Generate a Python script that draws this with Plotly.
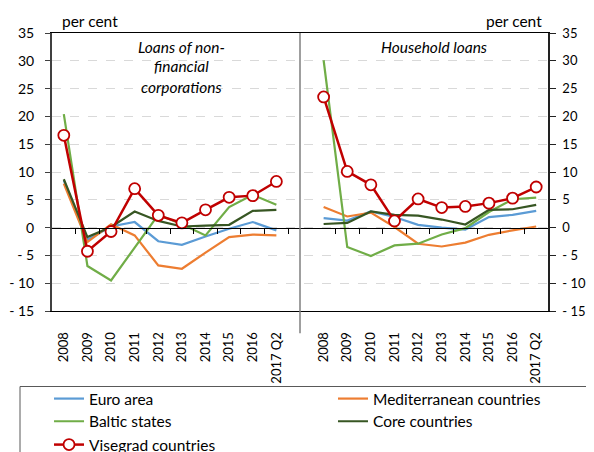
import plotly.graph_objects as go

years = ["2008", "2009", "2010", "2011", "2012", "2013", "2014", "2015", "2016", "2017 Q2"]

# Loans of non-financial corporations (left panel), per cent
nfc_euro = [8.5, -2.2, 0.2, 1.0, -2.45, -3.1, -1.6, -0.2, 1.0, -0.5]
nfc_med = [7.9, -2.6, 0.6, -1.4, -6.8, -7.4, -4.5, -1.7, -1.25, -1.4]
nfc_baltic = [20.4, -6.9, -9.5, -3.6, 2.3, 0.6, -1.4, 3.7, 5.9, 4.1]
nfc_core = [8.7, -1.7, 0.1, 2.9, 1.2, 0.2, 0.35, 0.5, 3.0, 3.2]
nfc_visegrad = [16.6, -4.25, -0.7, 7.0, 2.2, 0.85, 3.2, 5.45, 5.75, 8.3]

# Household loans (right panel), per cent
hh_euro = [1.7, 1.25, 2.9, 1.9, 0.5, 0.0, -0.35, 1.9, 2.3, 3.0]
hh_med = [3.7, 2.0, 2.7, 0.1, -2.9, -3.4, -2.7, -1.3, -0.5, 0.2]
hh_baltic = [30.1, -3.5, -5.1, -3.2, -2.9, -1.25, -0.1, 2.8, 5.1, 5.4]
hh_core = [0.65, 0.85, 2.9, 2.3, 2.15, 1.45, 0.55, 3.2, 3.3, 4.1]
hh_visegrad = [23.5, 10.1, 7.7, 1.2, 5.15, 3.6, 3.8, 4.4, 5.3, 7.3]

series_names = ["Euro area", "Mediterranean countries", "Baltic states", "Core countries", "Visegrad countries"]
y_ticks = [35, 30, 25, 20, 15, 10, 5, 0, -5, -10, -15]
y_tick_labels = ["35", "30", "25", "20", "15", "10", "5", "0", "- 5", "- 10", "- 15"]

FONT = "Lato"
WORD = 15.5
DIGIT = 13
n = len(years)
x_left = list(range(n))
x_gap = n
x_right = list(range(n + 1, 2 * n + 1))
x_all = x_left + [x_gap] + x_right
tick_pos = x_left + x_right
tick_text = years + years
boundaries = [i + 0.5 for i in range(0, n)] + [i + 0.5 for i in range(n + 1, 2 * n)]

colors = ["#5B9BD5", "#ED7D31", "#70AD47", "#375623", "#C00000"]
left_data = [nfc_euro, nfc_med, nfc_baltic, nfc_core, nfc_visegrad]
right_data = [hh_euro, hh_med, hh_baltic, hh_core, hh_visegrad]
legend_ids = ["legend", "legend2", "legend3", "legend4", "legend5"]

fig = go.Figure()
for name, col, l, r, lg in zip(series_names, colors, left_data, right_data, legend_ids):
    y = list(l) + [None] + list(r)
    if name == "Visegrad countries":
        fig.add_trace(go.Scatter(
            x=x_all, y=y, name=name, mode="lines+markers", legend=lg,
            line=dict(color=col, width=2.5),
            marker=dict(symbol="circle", size=11, color="white", line=dict(color=col, width=1.8)),
            connectgaps=False,
        ))
    else:
        fig.add_trace(go.Scatter(
            x=x_all, y=y, name=name, mode="lines", legend=lg,
            line=dict(color=col, width=2.2), connectgaps=False,
        ))

# helper empty traces so the extra axes exist
fig.add_trace(go.Scatter(x=[None], y=[None], xaxis="x2", yaxis="y", showlegend=False, hoverinfo="skip"))
fig.add_trace(go.Scatter(x=[None], y=[None], xaxis="x", yaxis="y2", showlegend=False, hoverinfo="skip"))

xr = [-0.5, 2 * n + 0.5]
yr = [-15, 35]

# legend positions (paper coords): two columns, three rows
col_x = [-0.006, 0.5665]
row_y = [-0.2554, -0.3370, -0.4209]
leg_pos = [(col_x[0], row_y[0]), (col_x[1], row_y[0]), (col_x[0], row_y[1]), (col_x[1], row_y[1]), (col_x[0], row_y[2])]

legends = {}
for lg, (lx, ly) in zip(legend_ids, leg_pos):
    legends[lg] = dict(
        orientation="h", x=lx, xanchor="left", y=ly, yanchor="top",
        font=dict(family=FONT, size=WORD, color="#000"), bgcolor="rgba(0,0,0,0)", borderwidth=0,
    )

fig.update_layout(
    width=586, height=444,
    margin=dict(l=44, r=46, t=25, b=141, autoexpand=False),
    paper_bgcolor="white", plot_bgcolor="white",
    font=dict(family=FONT, size=WORD, color="#000"),
    xaxis=dict(
        range=xr, tickmode="array", tickvals=tick_pos, ticktext=tick_text,
        tickangle=-90, showgrid=False, zeroline=False,
        showline=True, linecolor="#000", linewidth=1, mirror=True,
        ticks="outside", ticklen=15, tickcolor="rgba(0,0,0,0)",
        tickfont=dict(size=DIGIT),
    ),
    xaxis2=dict(
        range=xr, overlaying="x", anchor="free", position=(0 - yr[0]) / (yr[1] - yr[0]),
        side="bottom", tickmode="array", tickvals=boundaries, showticklabels=False,
        ticks="outside", ticklen=5, tickcolor="#000", tickwidth=1,
        showline=True, linecolor="#000", linewidth=1.2, showgrid=False, zeroline=False,
    ),
    yaxis=dict(
        range=yr, tickmode="array", tickvals=y_ticks, ticktext=y_tick_labels,
        showgrid=True, gridcolor="#D9D9D9", griddash="dash", gridwidth=1,
        zeroline=False, showline=True, linecolor="#404040", linewidth=2,
        ticks="outside", ticklen=5, tickcolor="#404040", ticklabelstandoff=8,
        tickfont=dict(size=DIGIT + 1),
    ),
    yaxis2=dict(
        range=yr, overlaying="y", side="right", tickmode="array", tickvals=y_ticks,
        ticktext=y_tick_labels, showgrid=False, zeroline=False,
        showline=True, linecolor="#222", linewidth=1.5,
        ticks="outside", ticklen=6, tickcolor="#222", ticklabelstandoff=4,
        tickfont=dict(size=DIGIT),
    ),
    showlegend=True,
    **legends,
)

# divider between the two panels
fig.add_shape(type="line", xref="x", yref="paper", x0=x_gap, x1=x_gap, y0=-0.08, y1=1,
              line=dict(color="#7F7F7F", width=1.5))
# legend frame
fig.add_shape(type="rect", xref="paper", yref="paper",
              x0=(20 - 52) / 496, x1=(588 - 52) / 496, y0=(311 - 386.5) / 278, y1=(311 - 470) / 278,
              line=dict(color="#595959", width=1), fillcolor="rgba(0,0,0,0)")

ann = [
    dict(text="per cent", x=0.016, y=1.043, xanchor="left", yanchor="middle"),
    dict(text="per cent", x=0.992, y=1.043, xanchor="right", yanchor="middle"),
    dict(text="<i>Loans of non-</i>", x=0.261, y=0.9507, xanchor="center", yanchor="middle"),
    dict(text="<i>financial</i>", x=0.261, y=0.8808, xanchor="center", yanchor="middle"),
    dict(text="<i>corporations</i>", x=0.261, y=0.8047, xanchor="center", yanchor="middle"),
    dict(text="<i>Household loans</i>", x=0.771, y=0.9507, xanchor="center", yanchor="middle"),
]
for a in ann:
    fig.add_annotation(xref="paper", yref="paper", showarrow=False,
                       font=dict(family=FONT, size=WORD, color="#000"), **a)

fig.write_html("out.html")
